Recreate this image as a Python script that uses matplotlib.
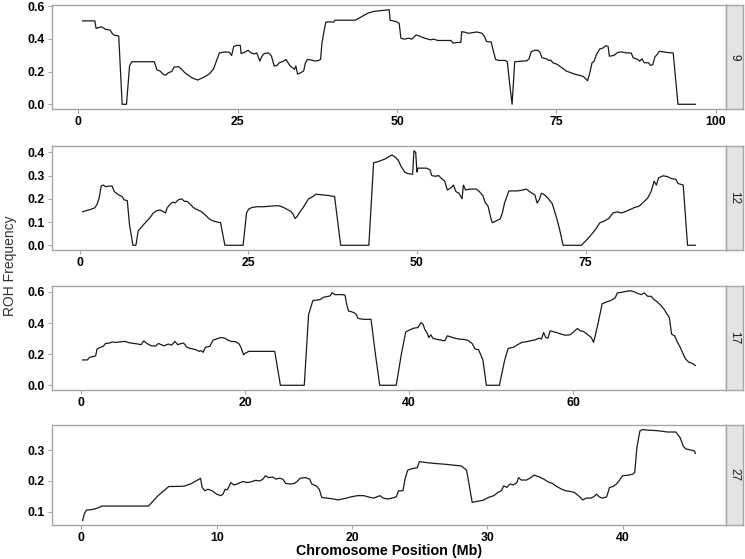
#!/usr/bin/env python3

import matplotlib
matplotlib.use("Agg")
import matplotlib.pyplot as plt

# ROH frequency along each chromosome (position in Mb, frequency)
chromosomes = ["9", "12", "17", "27"]

chr9_pos = [0.68, 2.59, 2.79, 3.61, 4.02, 4.29, 4.97, 5.31, 5.65, 6.34, 6.88, 7.56, 8.04, 8.38,
            11.92, 12.33, 12.81, 13.28, 13.69, 14.17, 14.65, 15.05, 15.74, 16.21, 16.69, 17.23,
            17.92, 18.73, 19.62, 20.50, 21.19, 21.66, 22.14, 23.02, 23.71, 24.05, 24.39, 24.86,
            25.41, 25.54, 26.09, 26.63, 27.11, 27.59, 28.0, 28.47, 28.81, 29.16, 29.84, 30.31,
            30.72, 31.2, 31.54, 32.22, 32.56, 32.9, 33.24, 33.58, 33.92, 34.13, 34.4, 34.95,
            35.35, 35.63, 35.97, 36.65, 37.13, 37.67, 38.01, 38.22, 38.49, 38.83, 39.37, 40.05,
            40.26, 41.76, 43.46, 43.94, 44.82, 45.5, 46.39, 47.89, 48.77, 48.91, 49.59, 49.93,
            50.34, 50.61, 51.16, 51.84, 52.32, 53.0, 53.68, 54.36, 55.25, 55.72, 56.4, 58.45,
            58.79, 59.47, 60.01, 60.15, 60.69, 61.17, 61.85, 62.53, 63.35, 63.76, 64.03, 64.78,
            65.05, 65.46, 65.94, 66.96, 67.3, 67.64, 68.05, 68.46, 69.0, 69.69, 70.37, 70.71,
            71.05, 71.59, 72.07, 72.41, 72.75, 73.43, 73.77, 74.11, 74.46, 75.14, 75.82, 76.5,
            77.18, 77.86, 78.54, 79.22, 79.9, 80.25, 80.59, 80.93, 81.27, 81.81, 82.29, 82.77,
            83.11, 83.31, 83.99, 84.67, 85.22, 86.04, 86.72, 87.06, 87.74, 88.08, 88.42, 88.76,
            89.44, 89.78, 90.12, 90.46, 90.8, 91.14, 92.51, 93.32, 93.66, 94.07, 96.8]
chr9_freq = [0.51, 0.51, 0.464, 0.474, 0.464, 0.458, 0.454, 0.434, 0.422, 0.418, 0.0, 0.0, 0.234, 0.26,
             0.26, 0.21, 0.204, 0.184, 0.178, 0.194, 0.2, 0.228, 0.23, 0.214, 0.194, 0.178,
             0.16, 0.148, 0.164, 0.184, 0.214, 0.264, 0.314, 0.32, 0.318, 0.298, 0.354, 0.36,
             0.36, 0.31, 0.318, 0.33, 0.314, 0.308, 0.314, 0.264, 0.294, 0.31, 0.314, 0.294,
             0.234, 0.238, 0.254, 0.264, 0.274, 0.254, 0.234, 0.224, 0.214, 0.234, 0.184, 0.194,
             0.204, 0.254, 0.274, 0.27, 0.264, 0.268, 0.274, 0.374, 0.434, 0.502, 0.504, 0.502,
             0.514, 0.514, 0.514, 0.524, 0.544, 0.558, 0.568, 0.574, 0.578, 0.514, 0.508, 0.504,
             0.494, 0.404, 0.398, 0.404, 0.398, 0.424, 0.414, 0.404, 0.394, 0.398, 0.39, 0.39,
             0.374, 0.378, 0.378, 0.444, 0.44, 0.434, 0.438, 0.442, 0.434, 0.41, 0.384, 0.38,
             0.334, 0.274, 0.268, 0.268, 0.26, 0.134, 0.0, 0.26, 0.262, 0.264, 0.266, 0.278,
             0.322, 0.33, 0.33, 0.318, 0.284, 0.278, 0.268, 0.27, 0.254, 0.244, 0.224, 0.204,
             0.194, 0.184, 0.178, 0.17, 0.144, 0.194, 0.254, 0.264, 0.304, 0.338, 0.344, 0.358,
             0.354, 0.294, 0.298, 0.318, 0.32, 0.314, 0.314, 0.284, 0.274, 0.264, 0.278, 0.254,
             0.254, 0.238, 0.242, 0.29, 0.304, 0.324, 0.316, 0.314, 0.174, 0.0, 0.0]

chr12_pos = [0.45, 0.96, 1.61, 2.25, 2.57, 2.89, 3.21, 3.53, 3.86, 4.37, 4.82, 5.14, 5.78, 6.3,
             6.56, 7.07, 7.39, 7.9, 8.35, 8.68, 9.0, 9.51, 9.96, 10.41, 10.93, 11.44, 11.89,
             12.34, 12.72, 12.98, 13.37, 13.82, 14.14, 14.65, 15.1, 15.55, 15.94, 16.39, 16.84,
             17.35, 17.99, 18.64, 19.15, 19.6, 20.24, 20.89, 21.53, 24.23, 24.74, 25.06, 25.58,
             26.35, 27.31, 28.28, 29.05, 29.56, 30.21, 30.85, 31.3, 31.62, 31.94, 32.26, 32.65,
             33.1, 33.55, 33.93, 34.38, 35.03, 35.99, 36.95, 37.79, 38.69, 42.87, 43.57, 44.34,
             45.31, 45.95, 46.27, 46.79, 47.24, 47.69, 48.2, 48.71, 49.36, 49.55, 49.81, 50.0,
             50.13, 51.41, 51.93, 52.19, 52.7, 53.21, 53.66, 54.11, 54.5, 54.95, 55.4, 55.78,
             56.23, 56.68, 56.88, 57.2, 57.84, 58.8, 59.25, 59.77, 60.09, 60.54, 60.93, 61.18,
             61.7, 62.34, 62.66, 62.98, 63.62, 64.91, 65.55, 66.2, 66.84, 67.48, 67.8, 68.12,
             68.44, 68.77, 69.41, 70.05, 70.69, 71.08, 71.66, 74.36, 75.51, 76.48, 77.12, 77.76,
             78.41, 79.05, 79.69, 80.33, 80.98, 81.62, 82.26, 82.9, 83.55, 84.19, 84.7, 85.15,
             85.48, 85.8, 86.44, 87.08, 87.72, 88.37, 88.69, 89.46, 90.1, 91.26]
chr12_freq = [0.144, 0.149, 0.154, 0.161, 0.175, 0.203, 0.256, 0.259, 0.252, 0.255, 0.255, 0.231, 0.217, 0.21,
              0.196, 0.192, 0.09, 0.0, 0.0, 0.062, 0.073, 0.09, 0.104, 0.118, 0.139, 0.149, 0.152,
              0.146, 0.139, 0.161, 0.175, 0.186, 0.182, 0.196, 0.2, 0.189, 0.189, 0.177, 0.163,
              0.154, 0.146, 0.13, 0.115, 0.107, 0.101, 0.097, 0.0, 0.0, 0.139, 0.156, 0.163,
              0.166, 0.166, 0.168, 0.17, 0.17, 0.163, 0.153, 0.146, 0.135, 0.115, 0.125, 0.144,
              0.161, 0.182, 0.2, 0.206, 0.22, 0.217, 0.214, 0.21, 0.0, 0.0, 0.355, 0.361,
              0.372, 0.383, 0.389, 0.379, 0.365, 0.337, 0.315, 0.308, 0.306, 0.407, 0.4, 0.315,
              0.332, 0.332, 0.325, 0.3, 0.297, 0.3, 0.287, 0.276, 0.238, 0.245, 0.259, 0.231,
              0.224, 0.2, 0.259, 0.238, 0.242, 0.242, 0.231, 0.214, 0.186, 0.168, 0.118, 0.097,
              0.104, 0.114, 0.139, 0.182, 0.234, 0.234, 0.237, 0.242, 0.228, 0.217, 0.182, 0.196,
              0.224, 0.22, 0.203, 0.179, 0.118, 0.076, 0.0, 0.0, 0.034, 0.069, 0.097, 0.104,
              0.115, 0.139, 0.144, 0.139, 0.146, 0.154, 0.163, 0.168, 0.185, 0.203, 0.231, 0.276,
              0.259, 0.29, 0.299, 0.296, 0.287, 0.284, 0.266, 0.259, 0.0, 0.0]

chr17_pos = [0.21, 0.79, 1.06, 1.43, 1.8, 1.96, 2.38, 2.75, 3.01, 3.44, 3.81, 4.34, 4.86, 5.39,
             5.92, 6.45, 6.98, 7.35, 7.67, 8.04, 8.56, 9.09, 9.46, 9.78, 10.15, 10.68, 11.05,
             11.47, 11.79, 12.27, 12.53, 12.95, 13.32, 13.69, 14.12, 14.38, 14.64, 14.91, 15.17,
             15.7, 16.12, 16.49, 17.02, 17.55, 17.92, 18.35, 18.87, 19.3, 19.51, 19.83, 20.04,
             20.46, 23.63, 24.32, 27.23, 27.76, 28.28, 29.18, 29.55, 29.98, 30.4, 30.61, 30.93,
             31.83, 32.2, 32.41, 32.62, 32.99, 33.31, 33.57, 33.78, 34.47, 35.37, 35.9, 36.43,
             38.44, 39.07, 39.6, 40.02, 40.55, 41.08, 41.45, 41.71, 41.92, 42.24, 42.4, 42.66,
             42.93, 43.46, 43.99, 44.36, 44.67, 45.04, 45.57, 46.1, 46.63, 47.16, 47.69, 48.06,
             48.48, 48.74, 49.01, 49.43, 51.02, 51.65, 52.08, 52.71, 53.24, 53.77, 54.29, 54.82,
             55.35, 55.88, 56.15, 56.41, 56.68, 56.94, 57.2, 58.0, 58.53, 59.05, 59.58, 59.85,
             60.11, 60.53, 60.9, 61.27, 61.7, 62.23, 62.49, 62.65, 63.02, 63.55, 64.07, 64.6,
             65.13, 65.4, 65.93, 66.46, 66.98, 67.51, 67.94, 68.31, 68.68, 69.1, 69.52, 69.89,
             70.26, 70.68, 71.11, 71.48, 71.74, 72.01, 72.38, 72.64, 73.06, 73.33, 73.7, 74.12,
             74.49, 74.91]
chr17_freq = [0.163, 0.163, 0.18, 0.184, 0.189, 0.233, 0.244, 0.252, 0.269, 0.271, 0.278, 0.276, 0.28, 0.282,
              0.273, 0.269, 0.265, 0.261, 0.286, 0.269, 0.254, 0.252, 0.269, 0.261, 0.254, 0.265, 0.258,
              0.282, 0.261, 0.269, 0.271, 0.244, 0.237, 0.233, 0.227, 0.218, 0.223, 0.212, 0.244,
              0.25, 0.29, 0.297, 0.307, 0.303, 0.29, 0.282, 0.28, 0.265, 0.244, 0.197, 0.206,
              0.218, 0.218, 0.0, 0.0, 0.456, 0.545, 0.551, 0.566, 0.57, 0.575, 0.596, 0.583,
              0.583, 0.579, 0.519, 0.477, 0.473, 0.466, 0.456, 0.43, 0.424, 0.424, 0.201, 0.0,
              0.0, 0.201, 0.343, 0.354, 0.367, 0.371, 0.403, 0.392, 0.36, 0.333, 0.307, 0.324,
              0.301, 0.295, 0.29, 0.286, 0.318, 0.312, 0.303, 0.297, 0.295, 0.29, 0.269, 0.233,
              0.229, 0.197, 0.163, 0.0, 0.0, 0.159, 0.237, 0.244, 0.261, 0.276, 0.28, 0.286,
              0.292, 0.303, 0.297, 0.339, 0.307, 0.303, 0.35, 0.339, 0.329, 0.322, 0.324, 0.333,
              0.346, 0.365, 0.35, 0.346, 0.329, 0.307, 0.276, 0.307, 0.392, 0.524, 0.536, 0.545,
              0.562, 0.594, 0.598, 0.604, 0.608, 0.6, 0.589, 0.583, 0.594, 0.572, 0.572, 0.551,
              0.536, 0.515, 0.488, 0.456, 0.435, 0.329, 0.318, 0.286, 0.244, 0.212, 0.17, 0.148,
              0.142, 0.127]

chr27_pos = [0.1, 0.22, 0.38, 0.7, 1.02, 1.34, 1.5, 4.96, 5.67, 6.47, 6.95, 7.59, 8.07, 8.39,
             8.71, 8.81, 8.93, 9.13, 9.35, 9.67, 9.99, 10.31, 10.47, 10.63, 10.79, 11.05, 11.27,
             11.5, 11.75, 11.98, 12.23, 12.55, 12.87, 13.19, 13.42, 13.61, 13.83, 14.15, 14.38,
             14.63, 14.89, 15.11, 15.43, 15.75, 15.98, 16.17, 16.55, 16.87, 17.03, 17.35, 17.58,
             17.77, 18.16, 18.64, 18.96, 19.28, 19.6, 19.92, 20.4, 20.88, 21.36, 21.61, 21.84,
             22.06, 22.32, 22.64, 22.96, 23.28, 23.44, 23.76, 23.92, 24.11, 24.4, 24.82, 24.98,
             25.52, 26.16, 26.8, 27.44, 28.08, 28.47, 28.88, 29.2, 29.68, 30.07, 30.48, 30.8,
             31.03, 31.22, 31.44, 31.67, 31.92, 32.18, 32.31, 32.5, 32.89, 33.14, 33.46, 33.85,
             34.17, 34.49, 34.81, 35.13, 35.45, 35.77, 36.09, 36.41, 36.73, 37.05, 37.31, 37.63,
             37.85, 38.07, 38.27, 38.49, 38.81, 39.03, 39.29, 39.54, 39.77, 39.99, 40.41, 40.73,
             40.89, 41.05, 41.27, 41.46, 41.85, 42.33, 42.81, 43.29, 43.93, 44.25, 44.47, 44.66,
             45.05, 45.31, 45.37]
chr27_freq = [0.071, 0.092, 0.105, 0.106, 0.109, 0.114, 0.118, 0.118, 0.152, 0.182, 0.182, 0.183, 0.19, 0.198,
              0.206, 0.209, 0.179, 0.168, 0.173, 0.168, 0.157, 0.152, 0.157, 0.173, 0.171, 0.195, 0.187,
              0.19, 0.195, 0.198, 0.195, 0.197, 0.202, 0.2, 0.206, 0.217, 0.211, 0.213, 0.206,
              0.209, 0.206, 0.192, 0.19, 0.192, 0.2, 0.209, 0.211, 0.206, 0.19, 0.184, 0.173,
              0.146, 0.144, 0.141, 0.138, 0.141, 0.144, 0.148, 0.152, 0.152, 0.146, 0.144, 0.148,
              0.152, 0.144, 0.141, 0.144, 0.148, 0.168, 0.168, 0.206, 0.235, 0.24, 0.243, 0.263,
              0.26, 0.257, 0.255, 0.252, 0.249, 0.235, 0.13, 0.133, 0.137, 0.146, 0.152, 0.163,
              0.168, 0.184, 0.179, 0.19, 0.187, 0.195, 0.211, 0.203, 0.203, 0.209, 0.219, 0.213,
              0.206, 0.197, 0.192, 0.182, 0.174, 0.168, 0.166, 0.163, 0.152, 0.138, 0.144, 0.144,
              0.148, 0.157, 0.148, 0.144, 0.148, 0.179, 0.182, 0.19, 0.203, 0.217, 0.219, 0.222,
              0.228, 0.309, 0.363, 0.368, 0.366, 0.365, 0.363, 0.36, 0.36, 0.341, 0.314, 0.305,
              0.301, 0.298, 0.29]

# Axis ticks shown on each facet
x_ticks = [[0, 25, 50, 75, 100], [0, 25, 50, 75], [0, 20, 40, 60], [0, 10, 20, 30, 40]]
y_ticks = [[0.0, 0.2, 0.4, 0.6], [0.0, 0.1, 0.2, 0.3, 0.4], [0.0, 0.2, 0.4, 0.6], [0.1, 0.2, 0.3]]

positions = [chr9_pos, chr12_pos, chr17_pos, chr27_pos]
frequencies = [chr9_freq, chr12_freq, chr17_freq, chr27_freq]

plt.rcParams["font.family"] = ["Liberation Sans", "DejaVu Sans"]

W, H = 745, 559
fig = plt.figure(figsize=(W / 100, H / 100), dpi=100)

# Panel (top, bottom) edges in pixels, mimicking the ggplot facet_grid layout
panel_rows = [(5, 109), (146, 250), (286, 390), (425, 525)]
left_px, right_px, strip_px = 52, 726, 17
border_col = "#a6a6a6"


def expand(vals, frac=0.05):
    lo, hi = min(vals), max(vals)
    pad = (hi - lo) * frac
    return lo - pad, hi + pad


for i, (top, bottom) in enumerate(panel_rows):
    rect = [left_px / W, 1 - bottom / H, (right_px - left_px) / W, (bottom - top) / H]
    ax = fig.add_axes(rect)
    ax.plot(positions[i], frequencies[i], color="#1a1a1a", linewidth=0.9)

    ax.set_xlim(*expand(positions[i]))
    ax.set_ylim(*expand(frequencies[i]))
    ax.set_xticks(x_ticks[i])
    ax.set_xticklabels([str(t) for t in x_ticks[i]])
    ax.set_yticks(y_ticks[i])
    ax.set_yticklabels([f"{t:.1f}" for t in y_ticks[i]])

    ax.tick_params(axis="both", length=3, width=0.8, color=border_col, pad=2,
                   labelsize=8.8, labelcolor="black")
    for lab in ax.get_xticklabels() + ax.get_yticklabels():
        lab.set_fontweight("bold")
    for sp in ax.spines.values():
        sp.set_color(border_col)
        sp.set_linewidth(1.0)

    # Facet strip on the right side
    sax = fig.add_axes([right_px / W, 1 - bottom / H, strip_px / W, (bottom - top) / H])
    sax.set_facecolor("#e3e3e3")
    sax.set_xticks([])
    sax.set_yticks([])
    for sp in sax.spines.values():
        sp.set_color(border_col)
        sp.set_linewidth(1.0)
    sax.text(0.5, 0.5, chromosomes[i], rotation=270, ha="center", va="center",
             fontsize=8.5, color="#1a1a1a", transform=sax.transAxes)

fig.text((left_px + right_px) / 2 / W, 1 - 551 / H, "Chromosome Position (Mb)",
         ha="center", va="center", fontsize=10.3, fontweight="bold")
fig.text(10 / W, 1 - 266 / H, "ROH Frequency", rotation=90, ha="center", va="center",
         fontsize=10, color="#333333")

fig.savefig("out.png", dpi=100)
